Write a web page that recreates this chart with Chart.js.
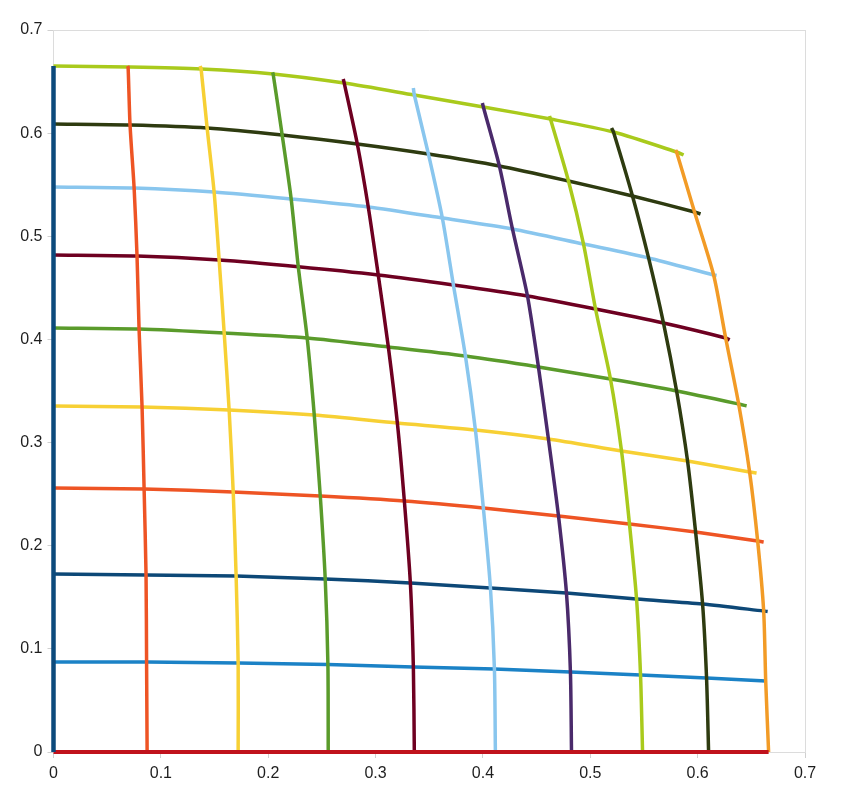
<!DOCTYPE html>
<html>
<head>
<meta charset="utf-8">
<script src="https://cdn.jsdelivr.net/npm/chart.js@4/dist/chart.umd.min.js"></script>
<style>
  html, body { margin: 0; padding: 0; background: #ffffff; }
  #wrap { width: 843px; height: 800px; }
</style>
</head>
<body>
<div id="wrap"><canvas id="c" width="843" height="800"></canvas></div>
<script>
// ---- tick labels ----
const tickValues = [0, 0.1, 0.2, 0.3, 0.4, 0.5, 0.6, 0.7];
const tickLabels = ['0', '0.1', '0.2', '0.3', '0.4', '0.5', '0.6', '0.7'];

// ---- axis-edge curves ----
const edgeLeft   = [[0, 0], [0, 0.6651]];
const edgeBottom = [[0, 0], [0.6661, 0]];

// ---- horizontal-ish curves (bottom to top) ----
const row1 = [[0,0.0873],[0.0867,0.0873],[0.1720,0.0863],[0.2556,0.0848],[0.3352,0.0824],[0.4107,0.0805],[0.4815,0.0776],[0.5468,0.0747],[0.6083,0.0717],[0.6634,0.0688]];
const row2 = [[0,0.1726],[0.0862,0.1716],[0.1701,0.1706],[0.2531,0.1677],[0.3324,0.1639],[0.4070,0.1590],[0.4778,0.1542],[0.5431,0.1483],[0.6046,0.1435],[0.6615,0.1367],[0.6652,0.1362]];
const row3 = [[0,0.2560],[0.0844,0.2550],[0.1674,0.2521],[0.2485,0.2482],[0.3268,0.2434],[0.4004,0.2366],[0.4704,0.2288],[0.5365,0.2211],[0.5981,0.2133],[0.6559,0.2046],[0.6615,0.2036]];
const row4 = [[0,0.3355],[0.0825,0.3345],[0.1636,0.3316],[0.2429,0.3267],[0.3203,0.3190],[0.3930,0.3122],[0.4610,0.3035],[0.5291,0.2918],[0.5906,0.2821],[0.6484,0.2715],[0.6549,0.2705]];
const row5 = [[0,0.4111],[0.0797,0.4101],[0.1590,0.4062],[0.2363,0.4014],[0.3119,0.3927],[0.3837,0.3839],[0.4517,0.3733],[0.5188,0.3616],[0.5804,0.3500],[0.6382,0.3374],[0.6456,0.3355]];
const row6 = [[0,0.4819],[0.0778,0.4809],[0.1543,0.4770],[0.2280,0.4705],[0.3025,0.4625],[0.3725,0.4528],[0.4415,0.4421],[0.5049,0.4295],[0.5682,0.4159],[0.6261,0.4014],[0.6298,0.3995]];
const row7 = [[0,0.5478],[0.0751,0.5468],[0.1496,0.5430],[0.2214,0.5362],[0.2932,0.5284],[0.3622,0.5177],[0.4275,0.5071],[0.4937,0.4925],[0.5543,0.4790],[0.6149,0.4625],[0.6177,0.4620]];
const row8 = [[0,0.6089],[0.0713,0.6079],[0.1431,0.6050],[0.2130,0.5982],[0.2830,0.5895],[0.3492,0.5798],[0.4153,0.5682],[0.4797,0.5536],[0.5393,0.5391],[0.5971,0.5236],[0.6027,0.5216]];
const row9 = [[0,0.6651],[0.0695,0.6641],[0.1375,0.6622],[0.2046,0.6574],[0.2708,0.6486],[0.3361,0.6370],[0.4004,0.6254],[0.4629,0.6137],[0.5216,0.6011],[0.5804,0.5817],[0.5869,0.5788]];

// ---- vertical-ish curves (left to right) ----
const col1 = [[0.0872,0],[0.0867,0.0873],[0.0862,0.1716],[0.0844,0.2550],[0.0825,0.3345],[0.0797,0.4101],[0.0778,0.4809],[0.0751,0.5468],[0.0713,0.6079],[0.0695,0.6641],[0.0690,0.6651]];
const col2 = [[0.1720,0],[0.1720,0.0863],[0.1701,0.1706],[0.1674,0.2521],[0.1636,0.3316],[0.1590,0.4062],[0.1543,0.4770],[0.1496,0.5430],[0.1431,0.6050],[0.1375,0.6622],[0.1366,0.6651]];
const col3 = [[0.2559,0],[0.2556,0.0848],[0.2531,0.1677],[0.2485,0.2482],[0.2429,0.3267],[0.2363,0.4014],[0.2280,0.4705],[0.2214,0.5362],[0.2130,0.5982],[0.2046,0.6574],[0.2040,0.6590]];
const col4 = [[0.3361,0],[0.3352,0.0824],[0.3324,0.1639],[0.3268,0.2434],[0.3203,0.3190],[0.3119,0.3927],[0.3025,0.4625],[0.2932,0.5284],[0.2830,0.5895],[0.2708,0.6486],[0.2699,0.6525]];
const col5 = [[0.4116,0],[0.4107,0.0805],[0.4070,0.1590],[0.4004,0.2366],[0.3930,0.3122],[0.3837,0.3839],[0.3725,0.4528],[0.3622,0.5177],[0.3492,0.5798],[0.3361,0.6370],[0.3352,0.6438]];
const col6 = [[0.4825,0],[0.4815,0.0776],[0.4778,0.1542],[0.4704,0.2288],[0.4610,0.3035],[0.4517,0.3733],[0.4415,0.4421],[0.4275,0.5071],[0.4153,0.5682],[0.4004,0.6254],[0.3995,0.6292]];
const col7 = [[0.5487,0],[0.5468,0.0747],[0.5431,0.1483],[0.5365,0.2211],[0.5291,0.2918],[0.5188,0.3616],[0.5049,0.4295],[0.4937,0.4925],[0.4797,0.5536],[0.4629,0.6137],[0.4620,0.6166]];
const col8 = [[0.6102,0],[0.6083,0.0717],[0.6046,0.1435],[0.5981,0.2133],[0.5906,0.2821],[0.5804,0.3500],[0.5682,0.4159],[0.5543,0.4790],[0.5393,0.5391],[0.5216,0.6011],[0.5198,0.6050]];
const col9 = [[0.6661,0],[0.6634,0.0688],[0.6615,0.1367],[0.6559,0.2046],[0.6484,0.2715],[0.6382,0.3374],[0.6261,0.4014],[0.6149,0.4625],[0.5971,0.5236],[0.5804,0.5817],[0.5795,0.5836]];

// ---- styling ----
const rowColors = ['#1b82c6', '#0d4877', '#ee5424', '#f7d034', '#5a9b2b', '#6e0021', '#89c6ee', '#2e3b10', '#a9ca1c'];
const colColors = ['#ee5424', '#f7d034', '#5a9b2b', '#6e0021', '#89c6ee', '#4a2a6b', '#a9ca1c', '#2e3b10', '#f29b26'];

const rows = [row1, row2, row3, row4, row5, row6, row7, row8, row9];
const cols = [col1, col2, col3, col4, col5, col6, col7, col8, col9];

function toPts(arr) { return arr.map(p => ({ x: p[0], y: p[1] })); }
function ds(arr, color, w) {
  return { data: toPts(arr), borderColor: color, backgroundColor: color, borderWidth: w,
           showLine: true, pointRadius: 0, pointHoverRadius: 0, tension: 0.25, fill: false, clip: 6 };
}

const datasets = [];
datasets.push(ds(edgeLeft, '#0c4a7c', 4.5));
datasets.push(ds(edgeBottom, '#c0121c', 4));
cols.forEach((c, i) => datasets.push(ds(c, colColors[i], 3.5)));
rows.forEach((r, i) => datasets.push(ds(r, rowColors[i], 3.5)));

const tickFont = { family: '"Liberation Sans", Arial, sans-serif', size: 16 };
function gridCfg() {
  return {
    display: true,
    drawOnChartArea: true,
    drawTicks: true,
    tickLength: 6,
    tickColor: '#d0d0d0',
    color: ctx => (ctx.tick && Math.abs(ctx.tick.value - 0.7) < 1e-9) ? '#dcdcdc' : 'rgba(0,0,0,0)',
    lineWidth: 1
  };
}

new Chart(document.getElementById('c'), {
  type: 'scatter',
  data: { datasets },
  options: {
    responsive: false,
    animation: false,
    layout: { padding: { left: 0, right: 38, top: 30, bottom: 0 } },
    plugins: { legend: { display: false }, tooltip: { enabled: false } },
    scales: {
      x: {
        type: 'linear', min: 0, max: 0.7,
        afterBuildTicks: s => { s.ticks = tickValues.map(v => ({ value: v })); },
        ticks: { color: '#1e1e1e', font: tickFont, padding: 6, maxRotation: 0,
                 callback: (v) => tickLabels[tickValues.findIndex(t => Math.abs(t - v) < 1e-9)] },
        grid: gridCfg(),
        border: { display: true, color: '#dcdcdc' },
        afterFit: s => { s.height = 48; }
      },
      y: {
        type: 'linear', min: 0, max: 0.7,
        afterBuildTicks: s => { s.ticks = tickValues.map(v => ({ value: v })); },
        ticks: { color: '#1e1e1e', font: tickFont, padding: 5,
                 callback: (v) => tickLabels[tickValues.findIndex(t => Math.abs(t - v) < 1e-9)] },
        grid: gridCfg(),
        border: { display: true, color: '#dcdcdc' },
        afterFit: s => { s.width = 53.5; }
      }
    }
  }
});
</script>
</body>
</html>
